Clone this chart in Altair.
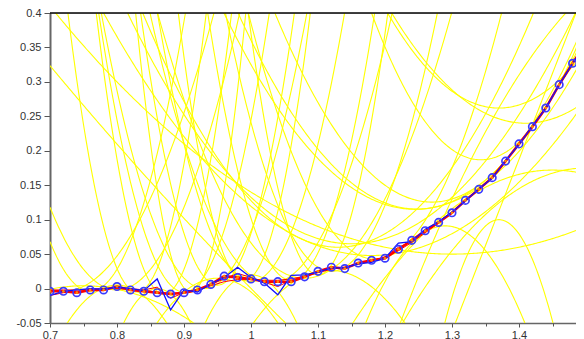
import altair as alt
import numpy as np
import pandas as pd

# ---- data ----
x_pts = [0.70, 0.72, 0.74, 0.76, 0.78, 0.80, 0.82, 0.84, 0.86, 0.88,
         0.90, 0.92, 0.94, 0.96, 0.98, 1.00, 1.02, 1.04, 1.06, 1.08,
         1.10, 1.12, 1.14, 1.16, 1.18, 1.20, 1.22, 1.24, 1.26, 1.28,
         1.30, 1.32, 1.34, 1.36, 1.38, 1.40, 1.42, 1.44, 1.46, 1.48, 1.50]

# noisy observations (blue line)
y_noisy = [-0.010, -0.004, -0.002, 0.000, -0.001, 0.002, 0.000, -0.003, 0.014, -0.031,
           -0.002, -0.005, 0.007, 0.016, 0.031, 0.016, 0.008, -0.009, 0.019, 0.020,
           0.024, 0.030, 0.030, 0.036, 0.038, 0.044, 0.066, 0.068, 0.086, 0.097,
           0.111, 0.127, 0.145, 0.160, 0.186, 0.209, 0.236, 0.262, 0.296, 0.327, 0.355]

# smoothed estimates (blue circles, main red curve)
y_smooth = [-0.004, -0.004, -0.006, -0.002, -0.002, 0.003, -0.002, -0.004, -0.006, -0.008,
            -0.006, -0.002, 0.006, 0.018, 0.016, 0.014, 0.010, 0.010, 0.010, 0.017,
            0.025, 0.031, 0.029, 0.037, 0.041, 0.044, 0.057, 0.070, 0.084, 0.096,
            0.110, 0.128, 0.144, 0.161, 0.185, 0.210, 0.235, 0.262, 0.296, 0.327, 0.357]

# extra red smoothing curves
y_red_b = [-0.010, -0.006, -0.004, -0.002, -0.001, 0.001, 0.000, -0.002, 0.002, -0.014,
           -0.006, -0.003, 0.006, 0.014, 0.022, 0.016, 0.009, 0.003, 0.012, 0.018,
           0.024, 0.029, 0.031, 0.036, 0.040, 0.046, 0.060, 0.068, 0.084, 0.097,
           0.111, 0.127, 0.145, 0.161, 0.185, 0.210, 0.236, 0.262, 0.296, 0.327, 0.356]
y_red_c = [-0.002, -0.002, -0.002, -0.001, 0.000, 0.000, -0.001, -0.003, -0.005, -0.007,
           -0.006, -0.002, 0.004, 0.010, 0.013, 0.013, 0.012, 0.012, 0.014, 0.018,
           0.023, 0.028, 0.031, 0.035, 0.040, 0.046, 0.055, 0.067, 0.081, 0.095,
           0.110, 0.127, 0.144, 0.162, 0.185, 0.210, 0.236, 0.263, 0.295, 0.326, 0.357]

# yellow local quadratic fits: y = y0 + s*(x-x0) + c*(x-x0)^2
yel_x0 = [0.83, 0.87, 0.90, 0.93, 0.91, 0.95, 0.99, 1.00, 1.03, 1.06,
          1.08, 1.12, 1.10, 0.80, 0.76, 1.245, 1.13, 1.15, 1.37, 1.41,
          1.18, 1.45, 1.50, 1.37, 0.75, 0.80, 0.86, 0.95, 1.00, 0.98,
          1.30, 1.44, 1.40, 1.46, 1.365, 1.30, 1.20, 1.25, 1.10, 0.72]
yel_y0 = [-0.005, -0.008, -0.005, 0.000, -0.005, 0.005, 0.012, 0.010, 0.008, 0.012,
          0.015, 0.025, 0.020, -0.002, -0.004, 0.115, 0.060, 0.065, 0.262, 0.240,
          0.048, 0.172, 0.175, 0.100, 0.004, 0.005, 0.000, 0.015, 0.020, 0.020,
          0.050, 0.262, 0.210, 0.296, 0.100, 0.130, 0.045, 0.075, 0.025, -0.004]
yel_s = [0, 0, 0, 0, 0, 0, 0, 0, 0, 0,
         0, 0, 0, 0, 0, 0, 0, 0, 0, 0,
         0, 0, 0, 0, 0, 0, 0, 0, 0, -1.0,
         0, 1.55, 1.30, 1.70, 2.5, 2.1, 0.3, 0.8, 0.2, 0.0]
yel_c = [38, 40, 25, 17, 60, 30, 40, 20, 12, 25,
         8, 15, 35, 12, 20, 3.5, 4, 3, 5, 4,
         2.2, -2.5, -3, -23, -2, -10, -20, -8, -15, 0.3,
         1.0, 8, 5, 4, 0, -3, 10, -10, -6, 8]

# axis tick values
x_ticks = [0.7, 0.8, 0.9, 1.0, 1.1, 1.2, 1.3, 1.4]
x_minor = [0.75, 0.85, 0.95, 1.05, 1.15, 1.25, 1.35, 1.45]
y_ticks = [-0.05, 0, 0.05, 0.1, 0.15, 0.2, 0.25, 0.3, 0.35, 0.4]

# ---- build tables ----
grid = np.linspace(0.7, 1.5, 401)
rows = []
for k in range(len(yel_x0)):
    d = grid - yel_x0[k]
    yy = yel_y0[k] + yel_s[k] * d + yel_c[k] * d * d
    for gx, gy in zip(grid, yy):
        rows.append({"curve": k, "x": float(gx), "y": float(gy)})
yellow_df = pd.DataFrame(rows)

red_df = pd.concat([
    pd.DataFrame({"x": x_pts, "y": y_red_b, "curve": "b"}),
    pd.DataFrame({"x": x_pts, "y": y_red_c, "curve": "c"}),
])
main_df = pd.DataFrame({"x": x_pts, "noisy": y_noisy, "smooth": y_smooth})
circ_df = main_df.iloc[:-1]

PLOT_W = 526
PLOT_H = 310
XDOM = [0.7, 0.7 + PLOT_W / 670]
YDOM = [-0.05, 0.4]
FONT = "Liberation Sans"

xs = alt.Scale(domain=XDOM, nice=False, zero=False)
ys = alt.Scale(domain=YDOM, nice=False, zero=False)

xaxis = alt.Axis(values=x_ticks, title=None, grid=False, orient="bottom",
                 labelExpr="format(datum.value, '.1~f')",
                 tickSize=4, tickColor="#555555", domainColor="#666666", domainWidth=1.5,
                 labelFont=FONT, labelFontSize=11, labelColor="#333333", labelPadding=2,
                 labelFlush=False, labelOverlap=False)
yaxis = alt.Axis(values=y_ticks, title=None, grid=False, orient="left",
                 labelExpr="datum.value < 0 ? '-' + format(-datum.value, '.2~f') : format(datum.value, '.2~f')",
                 tickSize=6, tickColor="#555555", domainColor="#666666", domainWidth=2,
                 labelFont=FONT, labelFontSize=11, labelColor="#333333", labelPadding=3,
                 labelFlush=False, labelOverlap=False)
xminor_axis = alt.Axis(values=x_minor, title=None, grid=False, orient="bottom", labels=False,
                       tickSize=3, tickColor="#555555", domain=False)

def X(field="x", axis=None):
    return alt.X(f"{field}:Q", scale=xs, axis=axis)

def Y(field, axis=None):
    return alt.Y(f"{field}:Q", scale=ys, axis=axis)

yellow = alt.Chart(yellow_df).mark_line(color="#ffff00", strokeWidth=1.1, clip=True).encode(
    x=X("x", xaxis), y=Y("y", yaxis), detail="curve:N")
minor = alt.Chart(main_df).mark_line(opacity=0, clip=True).encode(
    x=X("x", xminor_axis), y=Y("smooth"))
red_thin = alt.Chart(red_df).mark_line(color="#ff0000", strokeWidth=1, clip=True).encode(
    x=X(), y=Y("y"), detail="curve:N")
red_main = alt.Chart(main_df).mark_line(color="#ff0000", strokeWidth=2.5, clip=True).encode(
    x=X(), y=Y("smooth"))
blue = alt.Chart(main_df).mark_line(color="#1010ff", strokeWidth=1.3, clip=True).encode(
    x=X(), y=Y("noisy"))
circles = alt.Chart(circ_df).mark_point(shape="circle", filled=False, color="#3a3aff",
                                        size=55, strokeWidth=1.7, opacity=1, clip=True).encode(
    x=X(), y=Y("smooth"))
centers = alt.Chart(circ_df).mark_point(shape="circle", filled=True, color="#ff8c00",
                                        size=7, opacity=1, clip=True).encode(
    x=X(), y=Y("smooth"))
# frame line along the top of the plot area (drawn above the curves)
top_border = alt.Chart(main_df.iloc[:1]).mark_rule(color="#000000", strokeWidth=1.5).encode(
    x=alt.value(0), x2=alt.value(PLOT_W), y=alt.value(0))

chart = alt.layer(yellow, minor, red_thin, red_main, blue, circles, centers, top_border).resolve_axis(
    x="independent", y="independent"
).properties(
    width=PLOT_W, height=PLOT_H,
    autosize=alt.AutoSizeParams(type="none"),
    padding={"left": 42, "top": 5, "right": 0, "bottom": 18},
).configure_view(stroke="#000000", strokeWidth=1).configure(background="white")

chart.save("out.html", embed_options={"renderer": "svg", "actions": False})
